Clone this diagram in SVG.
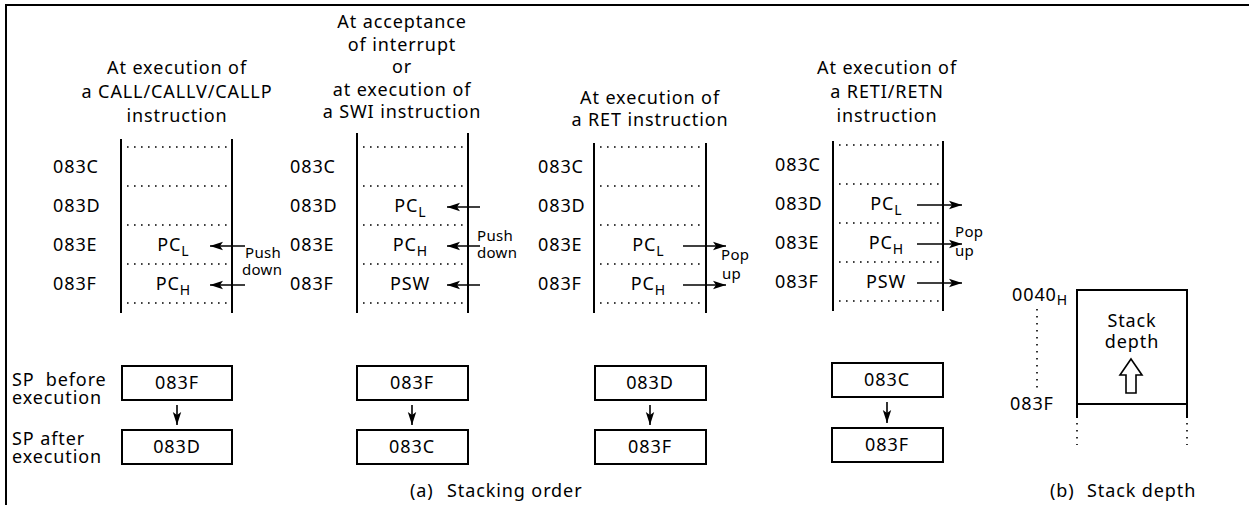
<svg xmlns="http://www.w3.org/2000/svg" width="1249" height="505" viewBox="0 0 1249 505">
<style>
text{font-family:"Noto Sans","Open Sans","DejaVu Sans",sans-serif;font-size:18px;fill:#000;letter-spacing:0.9px}
.t{text-anchor:middle}
.s{font-size:15px;letter-spacing:0.3px}
.sub{font-size:14px;letter-spacing:0}
.v{stroke:#000;stroke-width:2;fill:none}
.d{stroke:#000;stroke-width:1.6;stroke-dasharray:1.6 5.4;fill:none}
.a{stroke:#000;stroke-width:1.6;fill:none;marker-end:url(#ah)}
.b{stroke:#000;stroke-width:2;fill:#fff}
</style>
<defs>
<marker id="ah" markerWidth="15" markerHeight="10" refX="13" refY="5" orient="auto" markerUnits="userSpaceOnUse"><path d="M0,0.8 L13,5 L0,9.2 L3,5 z" fill="#000"/></marker>
</defs>
<rect width="1249" height="505" fill="#fff"/>
<path d="M6,505 V5 H1249" class="v"/>

<g id="col1">
<text class="t" x="177" y="74">At execution of</text>
<text class="t" x="177" y="98">a CALL/CALLV/CALLP</text>
<text class="t" x="177" y="122">instruction</text>
<path class="v" d="M121,139 V313 M232,139 V313"/>
<path class="d" d="M127,147 H229 M127,186 H229 M127,225 H229 M127,264 H229 M127,303 H229"/>
<text x="53" y="173">083C</text><text x="53" y="212">083D</text><text x="53" y="251">083E</text><text x="53" y="290">083F</text>
<text class="t" x="173" y="251">PC<tspan class="sub" dy="5">L</tspan></text>
<text class="t" x="173" y="290">PC<tspan class="sub" dy="5">H</tspan></text>
<text class="s" x="245" y="258">Push</text>
<text class="s" x="242" y="275">down</text>
</g>

<g id="col2">
<text class="t" x="402" y="28">At acceptance</text>
<text class="t" x="402" y="51">of interrupt</text>
<text class="t" x="402" y="73">or</text>
<text class="t" x="402" y="96">at execution of</text>
<text class="t" x="402" y="118">a SWI instruction</text>
<path class="v" d="M357,133 V313 M468,133 V313"/>
<path class="d" d="M363,147 H465 M363,186 H465 M363,225 H465 M363,264 H465 M363,303 H465"/>
<text x="290" y="173">083C</text><text x="290" y="212">083D</text><text x="290" y="251">083E</text><text x="290" y="290">083F</text>
<text class="t" x="410" y="212">PC<tspan class="sub" dy="5">L</tspan></text>
<text class="t" x="410" y="251">PC<tspan class="sub" dy="5">H</tspan></text>
<text class="t" x="410" y="290">PSW</text>
<text class="s" x="477" y="241">Push</text>
<text class="s" x="477" y="258">down</text>
</g>

<g id="col3">
<text class="t" x="650" y="104">At execution of</text>
<text class="t" x="650" y="126">a RET instruction</text>
<path class="v" d="M594,143 V313 M706,143 V313"/>
<path class="d" d="M600,147 H703 M600,186 H703 M600,225 H703 M600,264 H703 M600,303 H703"/>
<text x="538" y="173">083C</text><text x="538" y="212">083D</text><text x="538" y="251">083E</text><text x="538" y="290">083F</text>
<text class="t" x="648" y="251">PC<tspan class="sub" dy="5">L</tspan></text>
<text class="t" x="648" y="290">PC<tspan class="sub" dy="5">H</tspan></text>
<text class="s" x="721" y="260">Pop</text>
<text class="s" x="722" y="279">up</text>
</g>

<g id="col4">
<text class="t" x="887" y="74">At execution of</text>
<text class="t" x="887" y="98">a RETI/RETN</text>
<text class="t" x="887" y="122">instruction</text>
<path class="v" d="M833,141 V311 M943,141 V311"/>
<path class="d" d="M839,145 H940 M839,184 H940 M839,223 H940 M839,262 H940 M839,301 H940"/>
<text x="775" y="171">083C</text><text x="775" y="210">083D</text><text x="775" y="249">083E</text><text x="775" y="288">083F</text>
<text class="t" x="886" y="210">PC<tspan class="sub" dy="5">L</tspan></text>
<text class="t" x="886" y="249">PC<tspan class="sub" dy="5">H</tspan></text>
<text class="t" x="886" y="288">PSW</text>
<text class="s" x="955" y="237">Pop</text>
<text class="s" x="955" y="256">up</text>
</g>

<g id="sp-labels">
<text x="12" y="386">SP&#160; before</text>
<text x="12" y="404">execution</text>
<text x="12" y="445">SP after</text>
<text x="12" y="463">execution</text>
</g>

<g id="box1a"><rect class="b" x="122" y="366" width="110" height="34"/><text class="t" x="177" y="389">083F</text></g>
<g id="box1b"><rect class="b" x="122" y="430" width="110" height="34"/><text class="t" x="177" y="453">083D</text></g>
<g id="box2a"><rect class="b" x="357" y="366" width="111" height="34"/><text class="t" x="412" y="389">083F</text></g>
<g id="box2b"><rect class="b" x="357" y="430" width="111" height="34"/><text class="t" x="412" y="453">083C</text></g>
<g id="box3a"><rect class="b" x="595" y="366" width="111" height="34"/><text class="t" x="650" y="389">083D</text></g>
<g id="box3b"><rect class="b" x="595" y="430" width="111" height="34"/><text class="t" x="650" y="453">083F</text></g>
<g id="box4a"><rect class="b" x="832" y="363" width="111" height="34"/><text class="t" x="887" y="386">083C</text></g>
<g id="box4b"><rect class="b" x="832" y="428" width="111" height="34"/><text class="t" x="887" y="451">083F</text></g>

<g id="connectors">
<line class="a" x1="245" y1="246" x2="210" y2="246"/>
<line class="a" x1="245" y1="285" x2="210" y2="285"/>
<line class="a" x1="480" y1="207" x2="447" y2="207"/>
<line class="a" x1="480" y1="246" x2="447" y2="246"/>
<line class="a" x1="480" y1="285" x2="447" y2="285"/>
<line class="a" x1="683" y1="246" x2="726" y2="246"/>
<line class="a" x1="683" y1="285" x2="726" y2="285"/>
<line class="a" x1="917" y1="205" x2="962" y2="205"/>
<line class="a" x1="917" y1="244" x2="962" y2="244"/>
<line class="a" x1="917" y1="283" x2="962" y2="283"/>
<line class="a" x1="177" y1="405" x2="177" y2="425"/>
<line class="a" x1="412" y1="405" x2="412" y2="425"/>
<line class="a" x1="650" y1="405" x2="650" y2="425"/>
<line class="a" x1="887" y1="402" x2="887" y2="423"/>
</g>

<g id="stack-depth">
<text x="1012" y="301">0040<tspan class="sub" dy="4">H</tspan></text>
<path class="d" d="M1037,309 V388"/>
<text x="1010" y="410">083F</text>
<path class="v" d="M1077,418 V290 H1187 V418 M1077,404 H1187"/>
<path class="d" d="M1077,423 V445 M1187,423 V445"/>
<text class="t" x="1132" y="327">Stack</text>
<text class="t" x="1132" y="348">depth</text>
<path d="M1131,359 L1142,375 L1136,375 L1136,393 L1126,393 L1126,375 L1120,375 Z" fill="#fff" stroke="#000" stroke-width="1.6"/>
</g>

<g id="captions">
<text x="410" y="497">(a)</text><text x="447" y="497">Stacking order</text>
<text x="1050" y="497">(b)</text><text x="1087" y="497">Stack depth</text>
</g>
</svg>
